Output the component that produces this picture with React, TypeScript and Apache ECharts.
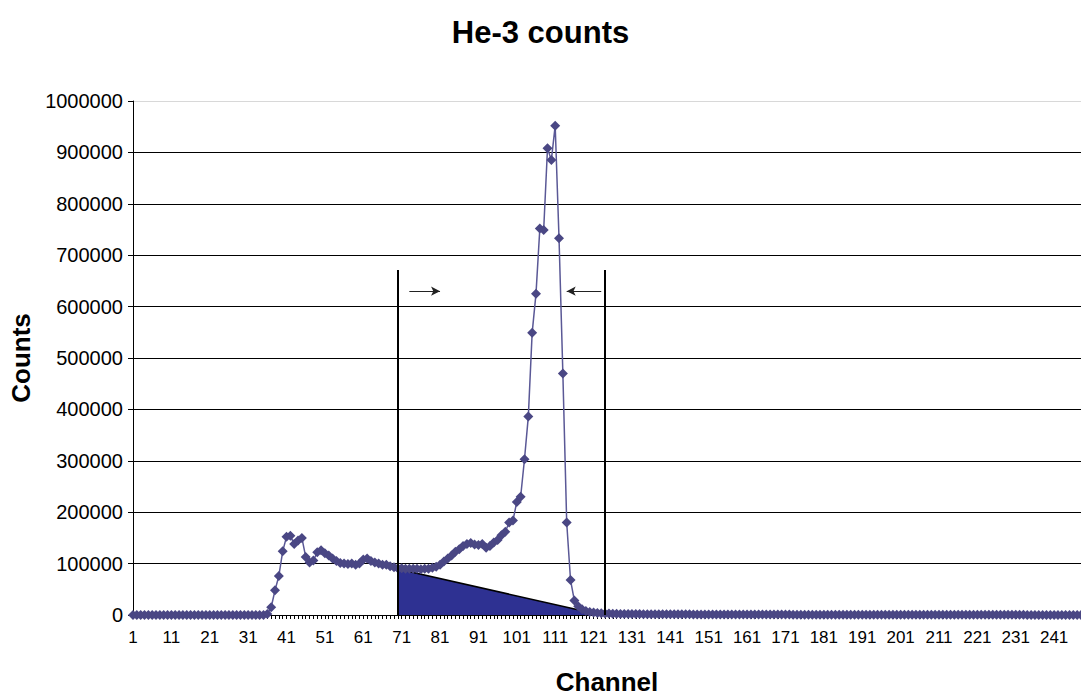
import { useEffect, useRef } from 'react';
import * as echarts from 'echarts';

// Channel categories 1..248
const channels: string[] = Array.from({ length: 248 }, (_, i) => String(i + 1));

// Counts per channel
const countsBaseline = [
  0, 0, 0, 0, 0, 0, 0, 0, 0, 0,
  0, 0, 0, 0, 0, 0, 0, 0, 0, 0,
  0, 0, 0, 0, 0, 0, 0, 0, 0, 0,
  0, 0, 0, 0, 0,
]; // ch 1-35
const countsLowPeak = [
  2000, 15000, 48000, 76000, 124000, 152000, 154000, 138000, 145000, 150000,
  113000, 102000, 106000, 122000, 126000, 120000, 116000, 110000, 105000, 101000,
  100000, 99000, 100000, 98000, 100000, 108000, 110000, 105000, 102000, 100000,
  98000, 98000, 95000, 93000, 91000,
]; // ch 36-70
const countsMainPeak = [
  91000, 90000, 90000, 90000, 90000, 89000, 90000, 90000, 92000, 94000,
  98000, 104000, 110000, 116000, 123000, 128000, 134000, 138000, 140000, 137000,
  136000, 138000, 131000, 134000, 141000, 146000, 155000, 162000, 180000, 184000,
  220000, 230000, 303000, 386000, 549000, 625000, 752000, 749000, 908000, 885000,
  952000, 733000, 470000, 180000, 68000, 28000, 17000, 11000, 8000, 6000,
  5000, 4000, 3500, 3000, 2800, 2500, 2300, 2100,
]; // ch 71-128
const countsTail = [
  2000, 1900, 1900, 1800, 1800, 1700, 1700, 1600, 1600, 1500,
  1500, 1500, 1400, 1400, 1400, 1300, 1300, 1300, 1200, 1200,
  1200, 1200, 1100, 1100, 1100, 1100, 1000, 1000, 1000, 1000,
  1000, 900, 900, 900, 900, 900, 900, 800, 800, 800,
  800, 800, 800, 800, 700, 700, 700, 700, 700, 700,
  700, 700, 600, 600, 600, 600, 600, 600, 600, 600,
  600, 500, 500, 500, 500, 500, 500, 500, 500, 500,
  500, 500, 500, 400, 400, 400, 400, 400, 400, 400,
  400, 400, 400, 400, 400, 400, 400, 300, 300, 300,
  300, 300, 300, 300, 300, 300, 300, 300, 300, 300,
  300, 300, 300, 300, 300, 200, 200, 200, 200, 200,
  200, 200, 200, 200, 200, 200, 200, 200, 200, 200,
]; // ch 129-248
const counts = [...countsBaseline, ...countsLowPeak, ...countsMainPeak, ...countsTail];

// Gate annotation (window with linear background)
const gateBackgroundStart: [string, number] = ['70', 89500];
const gateBackgroundEnd: [string, number] = ['123', 0];
const gateLineChannels = ['70', '124'];
const gateLineTop = 671000;
const arrowLevel = 630000;
const arrowRight = ['73', '81'];
const arrowLeft = ['123', '114'];

const yTicks = { min: 0, max: 1000000, interval: 100000 };

const FONT = "Arial, 'Liberation Sans', sans-serif";

export default function App() {
  const ref = useRef<HTMLDivElement>(null);
  useEffect(() => {
    const chart = echarts.init(ref.current!, null, { renderer: 'svg' });
    const splitColors = Array.from({ length: 11 }, (_, i) => (i === 10 ? '#d8d8d8' : '#000'));
    chart.setOption({
      animation: false,
      backgroundColor: '#fff',
      title: {
        text: 'He-3 counts',
        left: 'center',
        top: 12,
        textStyle: { fontFamily: FONT, fontSize: 31, fontWeight: 'bold', color: '#000' },
      },
      grid: { left: 133, right: 0, top: 101, bottom: 81, containLabel: false, outerBoundsMode: 'none' },
      xAxis: {
        type: 'category',
        data: channels,
        boundaryGap: false,
        name: 'Channel',
        nameLocation: 'middle',
        nameGap: 54,
        nameTextStyle: { fontFamily: FONT, fontSize: 26, fontWeight: 'bold', color: '#000' },
        axisLine: { show: true, lineStyle: { color: '#000', width: 1 } },
        axisTick: { show: true, interval: 0, length: 4, lineStyle: { color: '#000' } },
        axisLabel: { interval: 9, fontFamily: FONT, fontSize: 17, color: '#000', margin: 14 },
        splitLine: { show: false },
      },
      yAxis: {
        type: 'value',
        min: yTicks.min,
        max: yTicks.max,
        interval: yTicks.interval,
        name: 'Counts',
        nameLocation: 'middle',
        nameGap: 80,
        nameTextStyle: { fontFamily: FONT, fontSize: 26, fontWeight: 'bold', color: '#000' },
        axisLine: { show: true, lineStyle: { color: '#000', width: 1 } },
        axisTick: { show: true, length: 5, lineStyle: { color: '#000' } },
        axisLabel: {
          fontFamily: FONT,
          fontSize: 20,
          color: '#000',
          margin: 10,
          formatter: (v: number) => String(v),
        },
        splitLine: { show: true, lineStyle: { color: splitColors, width: 1 } },
      },
      series: [
        {
          type: 'line',
          data: [gateBackgroundStart, gateBackgroundEnd],
          symbol: 'none',
          z: 1,
          lineStyle: { color: '#000', width: 1.5 },
          areaStyle: { color: '#2e3192', opacity: 1 },
          silent: true,
          markLine: {
            silent: true,
            animation: false,
            label: { show: false },
            data: [
              [
                { coord: [gateLineChannels[0], 0], symbol: 'none', lineStyle: { color: '#000', width: 2, type: 'solid' } },
                { coord: [gateLineChannels[0], gateLineTop], symbol: 'none' },
              ],
              [
                { coord: [gateLineChannels[1], 0], symbol: 'none', lineStyle: { color: '#000', width: 2, type: 'solid' } },
                { coord: [gateLineChannels[1], gateLineTop], symbol: 'none' },
              ],
              [
                { coord: [arrowRight[0], arrowLevel], symbol: 'none', lineStyle: { color: '#222', width: 1, type: 'solid' } },
                { coord: [arrowRight[1], arrowLevel], symbol: 'arrow', symbolSize: [7, 9] },
              ],
              [
                { coord: [arrowLeft[0], arrowLevel], symbol: 'none', lineStyle: { color: '#222', width: 1, type: 'solid' } },
                { coord: [arrowLeft[1], arrowLevel], symbol: 'arrow', symbolSize: [7, 9] },
              ],
            ],
          },
        },
        {
          type: 'line',
          data: counts,
          symbol: 'diamond',
          symbolSize: 10,
          showAllSymbol: true,
          z: 3,
          lineStyle: { color: '#5a5896', width: 1.5 },
          itemStyle: { color: '#4a4784' },
        },
      ],
    });
    return () => chart.dispose();
  }, []);
  return (
    <div
      ref={ref}
      style={{ position: 'fixed', left: 0, top: 0, width: 1081, height: 696, background: '#fff' }}
    />
  );
}
